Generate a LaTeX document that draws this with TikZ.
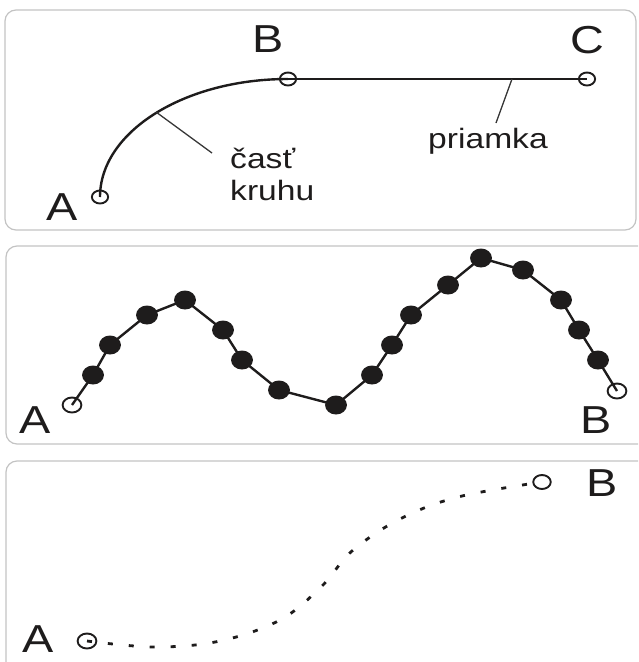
\documentclass[tikz,border=0pt]{standalone}
\usepackage{fontspec}
\setmainfont{Liberation Sans}
\definecolor{ink}{RGB}{30,28,28}
\definecolor{panelgray}{RGB}{195,195,195}
\definecolor{leadgray}{RGB}{55,55,55}
\begin{document}
\begin{tikzpicture}[x=1pt,y=-1pt,
  panel/.style={draw=panelgray,line width=1.2pt,rounded corners=11pt},
  big/.style={inner sep=0pt,text=ink,font=\fontsize{39}{39}\selectfont,xscale=1.2},
  lbl/.style={inner sep=0pt,text=ink,font=\fontsize{28}{28}\selectfont,xscale=1.2},
  ocirc/.style={circle,draw=ink,line width=1.9pt,minimum size=13pt,inner sep=0pt,xscale=1.25},
  fdot/.style={circle,fill=ink,minimum size=19pt,inner sep=0pt,xscale=1.15},
  curve/.style={draw=ink,line width=2.4pt},
  leader/.style={draw=leadgray,line width=1.3pt},
  dotted curve/.style={draw=ink,line width=2.8pt,dash pattern=on 5pt off 16pt}
]
\clip (0,0) rectangle (638,662);
\draw[panel] (5,10) rectangle (636,230);
\draw[panel] (6,246) rectangle (670,444);
\draw[panel] (6,461) rectangle (670,700);

% ---- panel 1
\node[ocirc] (A1) at (100,197) {};
\node[ocirc] (B1) at (288,79) {};
\node[ocirc] (C1) at (587,79) {};
\node[big] (LA1) at (62,207) {A};
\node[big] (LB1) at (268,39) {B};
\node[big] (LC1) at (587,40) {C};
\draw[curve] (A1.center) .. controls +(0,-65) and +(-104,0) .. (B1.center);
\draw[curve] (B1.center) -- (C1.center);
\coordinate (P1) at (156,112);
\coordinate (P1e) at (212,153);
\draw[leader] (P1) -- (P1e);
\coordinate (P2) at (512,79);
\coordinate (P2e) at (496,123);
\draw[leader] (P2) -- (P2e);
\node[lbl,anchor=base west] (cast) at (230,168) {časť};
\node[lbl,anchor=base west] (kruhu) at (230,200) {kruhu};
\node[lbl,anchor=base west] (priamka) at (428,148) {priamka};

% ---- panel 2
\node[ocirc,minimum size=15pt] (A2) at (72,405) {};
\node[ocirc,minimum size=15pt] (B2) at (617,391) {};
\node[big] (LA2) at (35,420) {A};
\node[big] (LB2) at (596,420) {B};
\foreach \i/\x/\y in {1/93/375, 2/110/345, 3/147/315, 4/185/300, 5/223/330, 6/242/360,
  7/279/390, 8/336/405, 9/372/375, 10/392/345, 11/411/315, 12/448/285, 13/481/258,
  14/523/270, 15/561/300, 16/579/330, 17/598/360}
  \coordinate (c\i) at (\x,\y);
\draw[curve,line join=round] (A2.center) -- (c1) -- (c2) -- (c3) -- (c4) -- (c5) -- (c6) -- (c7) -- (c8)
  -- (c9) -- (c10) -- (c11) -- (c12) -- (c13) -- (c14) -- (c15) -- (c16) -- (c17) -- (B2.center);
\foreach \i in {1,...,17}
  \node[fdot] (d\i) at (c\i) {};

% ---- panel 3
\node[ocirc,minimum size=15pt] (A3) at (87,641) {};
\node[ocirc,minimum size=14pt] (B3) at (542,482) {};
\node[big] (LA3) at (38,639) {A};
\node[big] (LB3) at (602,483) {B};
\draw[dotted curve] plot[smooth,tension=0.6] coordinates {(A3.center) (155,647) (220,641) (280,620)
  (322,586) (352,551) (400,519) (458,497) (B3.center)};
\end{tikzpicture}
\end{document}
